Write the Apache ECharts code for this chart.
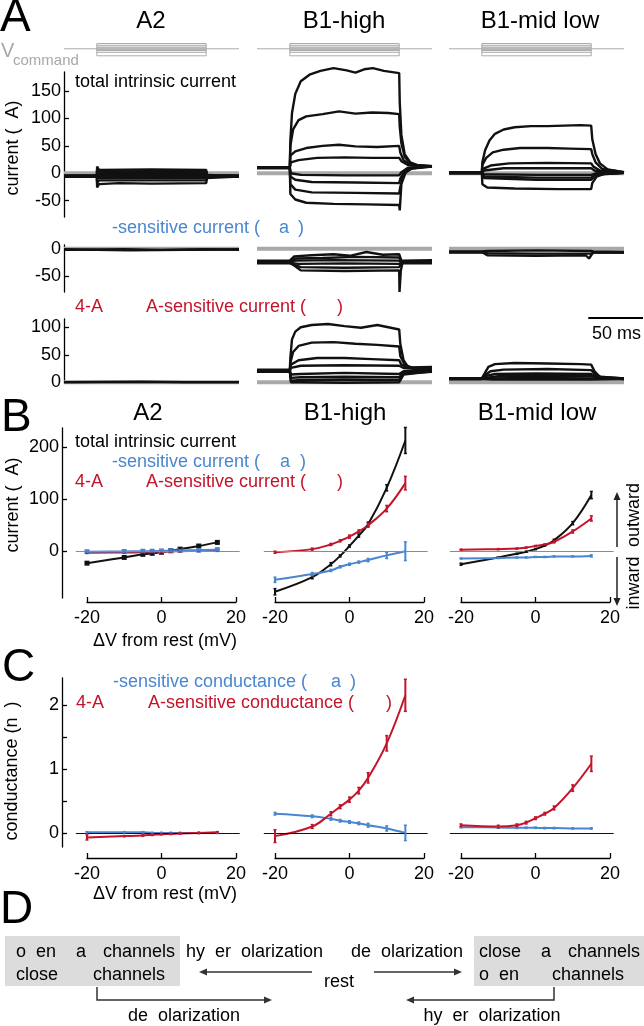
<!DOCTYPE html>
<html><head><meta charset="utf-8">
<script src="https://cdn.jsdelivr.net/npm/echarts@6/dist/echarts.min.js"></script>
<style>html,body{margin:0;padding:0;background:#fff}#c{width:644px;height:1026px}</style>
</head><body><div id="c"></div>
<script>
// ---------------- DATA ----------------
const columns = ['A2', 'B1-high', 'B1-mid low'];
const stepLevels = [-20, -10, -5, -2.5, 2.5, 5, 10, 15];   // command steps (mV)
const stepWindow = [-30, 0, 100, 130];                     // ms: start, step on, step off, end

// Panel A, total intrinsic current traces (pA) : [t(ms), I]
const totA2 = [
  [[-30,-4],[0,-4],[0.3,12],[2,6],[50,7],[100,6],[101,-4],[130,-4]],
  [[-30,-5],[0,-5],[0.3,8],[2,3],[60,4],[100,3],[101,-5],[130,-5]],
  [[-30,-5],[0,-5],[2,0],[100,0],[101,-5],[130,-5]],
  [[-30,-5],[0,-5],[2,-3],[100,-3],[101,-5],[130,-5]],
  [[-30,-6],[0,-6],[2,-6],[100,-6],[101,-6],[130,-6]],
  [[-30,-6],[0,-6],[2,-9],[100,-9],[101,-6],[130,-6]],
  [[-30,-6],[0,-6],[0.3,-18],[2,-13],[100,-13],[101,-6],[130,-6]],
  [[-30,-6],[0,-6],[0.3,-26],[2,-20],[20,-18],[50,-19],[100,-18],[101,-6],[130,-6]]
];
const totB1h = [
  [[-30,10],[0,10],[0.5,60],[2,110],[5,145],[10,168],[18,180],[28,187],[40,192],[52,188],[60,184],[68,190],[76,192],[86,187],[100,183],[100.5,130],[102,70],[105,35],[110,20],[118,14],[130,13]],
  [[-30,11],[0,11],[0.5,50],[3,80],[8,97],[15,104],[30,108],[45,113],[60,109],[75,111],[90,110],[100,108],[100.5,85],[102,55],[105,30],[110,18],[118,14],[130,13]],
  [[-30,9],[0,9],[0.5,32],[5,40],[15,46],[30,50],[45,52],[60,49],[80,48],[100,50],[101,38],[104,24],[110,15],[130,13]],
  [[-30,10],[0,10],[1,20],[8,24],[25,28],[50,29],[75,28],[100,28],[102,22],[108,15],[130,12]],
  [[-30,10],[0,10],[1,0],[10,-3],[50,-4],[100,-4],[102,2],[108,10],[130,12]],
  [[-30,10],[0,10],[0.5,-6],[5,-12],[20,-16],[60,-17],[100,-18],[101,-10],[105,4],[112,10],[130,13]],
  [[-30,10],[0,10],[0.5,-20],[5,-30],[20,-35],[60,-36],[100,-37],[101,-25],[104,-2],[110,8],[130,12]],
  [[-30,10],[0,10],[0.5,-38],[5,-48],[15,-54],[40,-56],[70,-57],[100,-58],[100.5,-68],[102,-20],[106,2],[112,9],[130,13]]
];
const totB1m = [
  [[-30,1],[0,1],[0.5,20],[3,42],[7,60],[12,72],[20,80],[30,84],[45,86],[60,86],[75,87],[90,88],[100,87],[101,62],[104,35],[108,18],[115,7],[130,2]],
  [[-30,1],[0,1],[0.5,15],[4,28],[10,38],[20,43],[35,46],[60,46],[80,45],[100,44],[101,35],[104,20],[110,8],[130,2]],
  [[-30,0],[0,0],[1,8],[8,14],[25,18],[60,19],[100,18],[102,12],[108,5],[130,1]],
  [[-30,0],[0,0],[2,5],[20,9],[100,9],[103,5],[110,2],[130,1]],
  [[-30,1],[0,1],[2,-2],[50,-3],[100,-3],[105,0],[130,1]],
  [[-30,1],[0,1],[2,-6],[50,-8],[100,-8],[104,-2],[130,1]],
  [[-30,1],[0,1],[2,-9],[50,-12],[100,-12],[104,-3],[130,1]],
  [[-30,1],[0,1],[0.5,-20],[5,-26],[30,-28],[70,-29],[100,-29],[101,-18],[105,-6],[112,-1],[130,1]]
];
// Panel A, Ka-sensitive current traces (pA)
const kaA2 = [
  [[-30,-2],[25,-1],[60,-2],[100,-1],[130,-2]],
  [[-30,-1],[30,-3],[130,-1]]
];
const kaB1h = [
  [[-30,-22],[0,-22],[4,-14],[20,-12],[40,-10],[55,-13],[70,-6],[85,-11],[100,-10],[102,-22],[130,-21]],
  [[-30,-24],[0,-24],[5,-18],[30,-17],[60,-15],[100,-16],[102,-24],[130,-24]],
  [[-30,-25],[0,-25],[5,-22],[40,-21],[100,-22],[102,-25],[130,-25]],
  [[-30,-26],[0,-26],[8,-28],[50,-27],[100,-28],[102,-26],[130,-26]],
  [[-30,-27],[0,-27],[10,-34],[50,-35],[100,-34],[102,-27],[130,-27]],
  [[-30,-25],[0,-25],[10,-40],[50,-41],[100,-40],[100.3,-80],[101.5,-40],[103,-26],[130,-25]]
];
const kaB1m = [
  [[-30,-5],[0,-5],[5,-4],[50,-3],[100,-4],[102,-5],[130,-6]],
  [[-30,-7],[0,-7],[5,-8],[50,-9],[100,-9],[102,-7],[130,-7]],
  [[-30,-6],[0,-6],[5,-12],[50,-13],[95,-12],[98,-18],[100,-12],[102,-7],[130,-7]]
];
// Panel A, 4-AP-sensitive current traces (pA)
const apA2 = [
  [[-30,0],[40,1],[80,0],[130,0]]
];
const apB1h = [
  [[-30,22],[0,22],[0.5,45],[2,78],[5,92],[10,100],[20,104],[35,106],[50,102],[65,99],[80,104],[90,100],[100,96],[101,70],[104,40],[108,28],[115,25],[130,25]],
  [[-30,20],[0,20],[0.5,35],[3,55],[8,66],[20,72],[40,73],[60,70],[80,68],[100,65],[101,48],[105,32],[112,26],[130,25]],
  [[-30,23],[0,23],[1,32],[8,40],[25,44],[50,44],[75,42],[100,40],[102,32],[108,27],[130,28]],
  [[-30,20],[0,20],[1,26],[10,30],[50,31],[100,30],[104,26],[130,22]],
  [[-30,21],[0,21],[1,14],[10,15],[50,17],[100,15],[104,20],[130,21]],
  [[-30,19],[0,19],[1,8],[10,9],[50,10],[100,9],[104,18],[130,20]],
  [[-30,20],[0,20],[1,3],[10,4],[50,5],[100,4],[104,16],[130,19]],
  [[-30,21],[0,21],[1,0],[10,0],[50,-1],[100,0],[104,14],[130,20]]
];
const apB1m = [
  [[-30,7],[0,7],[2,14],[6,28],[12,33],[30,35],[60,34],[90,33],[100,32],[103,20],[108,10],[130,7]],
  [[-30,6],[0,6],[2,12],[8,20],[20,23],[60,24],[100,22],[104,14],[110,8],[130,6]],
  [[-30,7],[0,7],[3,11],[12,15],[50,16],[100,15],[105,10],[130,7]],
  [[-30,6],[0,6],[3,8],[15,11],[100,11],[106,8],[130,6]],
  [[-30,7],[0,7],[5,7],[50,8],[100,7],[130,7]],
  [[-30,6],[0,6],[10,5],[100,5],[130,6]]
];

// Panel B (I-V, pA) and C (G-V, nS)
const dV = [-20, -10, -5, -2.5, 0, 2.5, 5, 10, 15];
const ivTotA2 = [-23,-12,-6,-4,-2,1,4,10,17];      const ivTotA2Err = [2,1,1,1,1,1,1,2,3];
const ivKaA2  = [-1,-0.5,0,0,0.5,1,1.5,2,3];         const ivKaA2Err  = [1,1,1,1,1,1,1,1,2];
const ivAA2   = [-3,-2.5,-2,-1.5,-1,-0.5,0,0.5,1];   const ivAA2Err   = [1,1,1,1,1,1,1,1,1];
const ivTotB1h = [-78,-50,-25,-9,10,30,52,122,213];  const ivTotB1hErr = [6,3,3,2,2,3,4,6,25];
const ivKaB1h  = [-55,-44,-37,-30,-25,-21,-17,-8,0]; const ivKaB1hErr  = [5,3,2,2,2,2,3,6,18];
const ivAB1h   = [-2,4,13,20,28,38,50,82,131];       const ivAB1hErr   = [2,2,2,2,3,3,4,6,13];
const ivTotB1m = [-25,-12,-5,-1,4,11,21,54,108];     const ivTotB1mErr = [2,1,1,1,1,1,2,3,7];
const ivKaB1m  = [-14,-13,-12,-12,-11,-11,-10,-10,-9]; const ivKaB1mErr = [1,1,1,1,1,1,1,1,2];
const ivAB1m   = [3,4,5,7,10,13,18,38,63];           const ivAB1mErr   = [1,1,1,1,1,1,2,3,5];

const gKaA2 = [0.01,0.01,0.01,0,0,0,0,0,0];          const gKaA2Err = [0.01,0.01,0.01,0.01,0.01,0.01,0.01,0.01,0.01];
const gAA2  = [-0.07,-0.05,-0.04,-0.03,-0.02,-0.015,-0.01,0,0.01]; const gAA2Err = [0.04,0.01,0.01,0.01,0.01,0.01,0.01,0.01,0.01];
const gKaB1h = [0.30,0.26,0.22,0.19,0.17,0.15,0.12,0.07,0.0]; const gKaB1hErr = [0.02,0.02,0.02,0.02,0.02,0.02,0.03,0.04,0.12];
const gAB1h  = [-0.05,0.1,0.3,0.41,0.52,0.66,0.86,1.4,2.15]; const gAB1hErr = [0.1,0.03,0.03,0.03,0.04,0.05,0.08,0.12,0.25];
const gKaB1m = [0.09,0.085,0.08,0.08,0.08,0.075,0.075,0.07,0.07]; const gKaB1mErr = [0.01,0.01,0.01,0.01,0.01,0.01,0.01,0.01,0.01];
const gAB1m  = [0.12,0.1,0.12,0.16,0.23,0.3,0.39,0.7,1.08]; const gAB1mErr = [0.02,0.02,0.02,0.02,0.02,0.02,0.03,0.05,0.12];

// tick labels
const ticksATop = [-50, 0, 50, 100, 150];
const ticksAMid = [-50, 0];
const ticksABot = [0, 50, 100];
const ticksB = [0, 100, 200];
const ticksC = [0, 0.5, 1, 1.5, 2];
const labelsC = [0, 1, 2];
const ticksDV = [-20, 0, 20];

// ---------------- STYLE / LAYOUT ----------------
const FF = '"Liberation Sans", Arial, Helvetica, sans-serif';
const BLUE = '#4a86cf', RED = '#c4142b', GRAY = '#a9a9a9', BLACK = '#111';

const grids = [], xAxes = [], yAxes = [], series = [];
function addGrid(box, xa, ya) {
  const i = grids.length;
  grids.push(Object.assign({containLabel: false, outerBoundsMode: 'none', show: false}, box));
  xAxes.push(Object.assign({type: 'value', gridIndex: i}, xa));
  yAxes.push(Object.assign({type: 'value', gridIndex: i}, ya));
  return i;
}
const hid = (min, max) => ({min, max, show: false});
function visY(min, max, tickVals, labelVals, offset) {
  return {min, max, position: 'left', offset: offset || 0,
    axisLine: {show: true, onZero: false, lineStyle: {color: '#000', width: 1.3}},
    axisTick: {show: true, inside: true, length: 5, customValues: tickVals, lineStyle: {color: '#000', width: 1.3}},
    axisLabel: {show: true, customValues: labelVals, fontSize: 18, fontFamily: FF, color: '#000', margin: 3},
    splitLine: {show: false}};
}
function visX(min, max, vals) {
  return {min, max, position: 'bottom',
    axisLine: {show: true, onZero: false, lineStyle: {color: '#000', width: 1.3}},
    axisTick: {show: true, inside: true, length: 5, customValues: vals, lineStyle: {color: '#000', width: 1.3}},
    axisLabel: {show: true, customValues: vals, fontSize: 18, fontFamily: FF, color: '#000', margin: 7},
    splitLine: {show: false}};
}
function lineS(gi, d, color, width, z) {
  series.push({type: 'line', xAxisIndex: gi, yAxisIndex: gi, data: d, showSymbol: false,
    symbol: 'none', clip: false, lineStyle: {color: color, width: width}, z: z || 3, silent: true, animation: false});
}
function traces(gi, list, color, width) { list.forEach(d => lineS(gi, d, color, width, 3)); }
function zeroLine(gi) { lineS(gi, [[stepWindow[0], 0], [stepWindow[3], 0]], GRAY, 4, 2); }

const colsA = [64, 257, 449], wA = 175;
const tMin = stepWindow[0], tMax = stepWindow[3];
const vG = [], tG = [], mG = [], bG = [];
colsA.forEach((L, c) => {
  vG.push(addGrid({left: L, top: 42.5, width: wA, height: 14}, hid(tMin, tMax), hid(-22, 18)));
  tG.push(addGrid({left: L, top: 72, width: wA, height: 145}, hid(tMin, tMax),
    c === 0 ? visY(-80, 185, ticksATop, ticksATop) : hid(-80, 185)));
  mG.push(addGrid({left: L, top: 245, width: wA, height: 47}, hid(tMin, tMax),
    c === 0 ? visY(-80, 7, ticksAMid, ticksAMid) : hid(-80, 7)));
  bG.push(addGrid({left: L, top: 319, width: wA, height: 64.35}, hid(tMin, tMax),
    c === 0 ? visY(-2, 115, ticksABot, ticksABot) : hid(-2, 115)));
});

// V command: baseline, one plateau per step level, and the step edges
const vLo = Math.min.apply(null, stepLevels), vHi = Math.max.apply(null, stepLevels);
vG.forEach(gi => {
  const VC = '#aaaaaa';
  lineS(gi, [[stepWindow[0], 0], [stepWindow[3], 0]], VC, 1, 3);
  stepLevels.forEach(v => lineS(gi, [[stepWindow[1], v], [stepWindow[2], v]], VC, 1, 3));
  lineS(gi, [[stepWindow[1], vLo], [stepWindow[1], vHi]], VC, 1, 3);
  lineS(gi, [[stepWindow[2], vLo], [stepWindow[2], vHi]], VC, 1, 3);
});
[tG, mG, bG].forEach(row => row.forEach(gi => zeroLine(gi)));
const TW = 2.4;
traces(tG[0], totA2, BLACK, TW); traces(tG[1], totB1h, BLACK, TW); traces(tG[2], totB1m, BLACK, TW);
traces(mG[0], kaA2, BLACK, TW);  traces(mG[1], kaB1h, BLACK, TW);  traces(mG[2], kaB1m, BLACK, TW);
traces(bG[0], apA2, BLACK, TW);  traces(bG[1], apB1h, BLACK, TW);  traces(bG[2], apB1m, BLACK, TW);

// Panels B and C
const dataLeft = [75.8, 263.8, 449.8], axisLeft = [87, 275, 461];
const pxPerMV = 149 / 40;
const xLo = -23, xHi = 21, dataW = (xHi - xLo) * pxPerMV;
const BG = [], CG = [];
dataLeft.forEach((L, c) => {
  BG.push(addGrid({left: L, top: 428, width: dataW, height: 170}, hid(xLo, xHi),
    c === 0 ? visY(-90, 237, ticksB, ticksB, L - 62) : hid(-90, 237)));
  addGrid({left: axisLeft[c], top: 601, width: 149, height: 1}, visX(-20, 20, ticksDV), hid(0, 1));
  CG.push(addGrid({left: L, top: 678, width: dataW, height: 169}, hid(xLo, xHi),
    c === 0 ? visY(-0.22, 2.42, ticksC, labelsC, L - 62) : hid(-0.22, 2.42)));
  addGrid({left: axisLeft[c], top: 857, width: 149, height: 1}, visX(-20, 20, ticksDV), hid(0, 1));
});

function ivSeries(gi, vals, errs, color, squares, markLine) {
  const s = {type: 'line', xAxisIndex: gi, yAxisIndex: gi, data: dV.map((x, i) => [x, vals[i]]),
    smooth: 0.4, showSymbol: !!squares, symbol: 'rect', symbolSize: 5,
    itemStyle: {color: color}, lineStyle: {color: color, width: 2}, clip: false, z: 4, silent: true, animation: false};
  if (markLine) s.markLine = markLine;
  series.push(s);
  series.push({type: 'custom', xAxisIndex: gi, yAxisIndex: gi, z: 5, silent: true, animation: false, clip: false,
    data: dV.map((x, i) => [x, vals[i] - errs[i], vals[i] + errs[i]]),
    renderItem: (params, api) => {
      const p1 = api.coord([api.value(0), api.value(1)]), p2 = api.coord([api.value(0), api.value(2)]);
      return {type: 'group', children: [
        {type: 'line', shape: {x1: p1[0], y1: p1[1], x2: p2[0], y2: p2[1]}, style: {stroke: color, lineWidth: 2}},
        {type: 'line', shape: {x1: p1[0] - 1.5, y1: p1[1], x2: p1[0] + 1.5, y2: p1[1]}, style: {stroke: color, lineWidth: 1.5}},
        {type: 'line', shape: {x1: p2[0] - 1.5, y1: p2[1], x2: p2[0] + 1.5, y2: p2[1]}, style: {stroke: color, lineWidth: 1.5}}
      ]};
    }});
}
function refLines(hColor, vTop, vBottom) {
  return {silent: true, symbol: ['none', 'none'], label: {show: false}, animation: false,
    lineStyle: {color: '#8c8c8c', width: 1, type: 'solid'},
    data: [{yAxis: 0, lineStyle: {color: hColor, width: 1, type: 'solid'}},
           [{coord: [0, vTop]}, {coord: [0, vBottom]}]]};
}
// B
ivSeries(BG[0], ivTotA2, ivTotA2Err, BLACK, true, refLines('#8c8c8c', 87, -98));
ivSeries(BG[0], ivAA2, ivAA2Err, RED, false);
ivSeries(BG[0], ivKaA2, ivKaA2Err, BLUE, true);
ivSeries(BG[1], ivTotB1h, ivTotB1hErr, BLACK, false, refLines('#8c8c8c', 237, -98));
ivSeries(BG[1], ivKaB1h, ivKaB1hErr, BLUE, false);
ivSeries(BG[1], ivAB1h, ivAB1hErr, RED, false);
ivSeries(BG[2], ivTotB1m, ivTotB1mErr, BLACK, false, refLines('#8c8c8c', 237, -98));
ivSeries(BG[2], ivKaB1m, ivKaB1mErr, BLUE, false);
ivSeries(BG[2], ivAB1m, ivAB1mErr, RED, false);
// C
ivSeries(CG[0], gKaA2, gKaA2Err, BLUE, false, refLines('#111', 1.81, -0.39));
ivSeries(CG[0], gAA2, gAA2Err, RED, false);
ivSeries(CG[1], gKaB1h, gKaB1hErr, BLUE, false, refLines('#111', 1.81, -0.39));
ivSeries(CG[1], gAB1h, gAB1hErr, RED, false);
ivSeries(CG[2], gKaB1m, gKaB1mErr, BLUE, false, refLines('#111', 1.81, -0.39));
ivSeries(CG[2], gAB1m, gAB1mErr, RED, false);

const chart = echarts.init(document.getElementById('c'), null, {renderer: 'canvas', width: 644, height: 1026});
chart.setOption({animation: false, backgroundColor: '#fff', grid: grids, xAxis: xAxes, yAxis: yAxes, series: series});

// ---------------- TEXT & ANNOTATIONS ----------------
function T(text, x, y, o) {
  o = o || {};
  const al = o.align || 'left';
  return {type: 'text', x: x, y: y, rotation: o.rot || 0, silent: true, z: 100,
    style: {text: text, fill: o.color || '#000', fontSize: o.size || 18, fontFamily: FF,
      align: al, textAlign: al, verticalAlign: 'middle', textVerticalAlign: 'middle'}};
}
function L(x1, y1, x2, y2, color, w) {
  return {type: 'line', silent: true, z: 100, shape: {x1, y1, x2, y2}, style: {stroke: color || '#333', lineWidth: w || 1.5}};
}
function head(x, y, dir, color) { // tip at (x,y)
  const c = color || '#333', s = 8, h = 3.5;
  let pts;
  if (dir === 'left') pts = [[x, y], [x + s, y - h], [x + s, y + h]];
  else if (dir === 'right') pts = [[x, y], [x - s, y - h], [x - s, y + h]];
  else if (dir === 'up') pts = [[x, y], [x - h, y + s], [x + h, y + s]];
  else pts = [[x, y], [x - h, y - s], [x + h, y - s]];
  return {type: 'polygon', silent: true, z: 100, shape: {points: pts}, style: {fill: c}};
}

const g = [];
// panel letters
g.push(T('A', 0, 18, {size: 46}), T('B', 1, 418, {size: 46}), T('C', 2, 668, {size: 46}), T('D', 0, 910, {size: 46}));
// column titles
const titleXA = [151, 344, 540], titleXB = [148, 345, 537];
columns.forEach((t, i) => { g.push(T(t, titleXA[i], 21, {size: 24, align: 'center'})); g.push(T(t, titleXB[i], 413, {size: 24, align: 'center'})); });
// Vcommand
g.push(T('V', 1, 51, {size: 20, color: '#a8a8a8'}), T('command', 13, 61, {size: 15, color: '#a8a8a8'}));
// Panel A labels
g.push(T('current (  A)', 13, 148, {rot: Math.PI / 2, align: 'center'}));
g.push(T('total intrinsic current', 75, 82));
g.push(T('-sensitive current (', 112, 228, {color: BLUE}), T('a', 279, 228, {color: BLUE}), T(')', 298, 228, {color: BLUE}));
g.push(T('4-A', 75, 307, {color: RED}), T('A-sensitive current (', 146, 307, {color: RED}), T(')', 337, 307, {color: RED}));
// Panel B labels
g.push(T('current (  A)', 13, 505, {rot: Math.PI / 2, align: 'center'}));
g.push(T('total intrinsic current', 75, 442));
g.push(T('-sensitive current (', 112, 462, {color: BLUE}), T('a', 280, 462, {color: BLUE}), T(')', 300, 462, {color: BLUE}));
g.push(T('4-A', 75, 482, {color: RED}), T('A-sensitive current (', 146, 482, {color: RED}), T(')', 337, 482, {color: RED}));
g.push(T('\u0394V from rest (mV)', 165, 641, {align: 'center'}));
// outward / inward
g.push(L(617, 547, 617, 499, '#222', 1.5), head(617, 492, 'up', '#222'));
g.push(L(617, 557, 617, 599, '#222', 1.5), head(617, 606, 'down', '#222'));
g.push(T('outward', 634, 515, {rot: Math.PI / 2, align: 'center'}), T('inward', 634, 583, {rot: Math.PI / 2, align: 'center'}));
// Panel C labels
g.push(T('conductance (n  )', 12, 771, {rot: Math.PI / 2, align: 'center'}));
g.push(T('-sensitive conductance (', 113, 682, {color: BLUE}), T('a', 331, 682, {color: BLUE}), T(')', 350, 682, {color: BLUE}));
g.push(T('4-A', 76, 703, {color: RED}), T('A-sensitive conductance (', 148, 703, {color: RED}), T(')', 386, 703, {color: RED}));
g.push(T('\u0394V from rest (mV)', 165, 894, {align: 'center'}));
// scale bar (50 ms) from the time axis of the last column
const p0 = chart.convertToPixel({gridIndex: bG[2]}, [0, 0]);
const p50 = chart.convertToPixel({gridIndex: bG[2]}, [50, 0]);
const barLen = p50[0] - p0[0];
g.push(L(643 - barLen, 318, 643, 318, '#000', 2), T('50 ms', 592, 334));
// Panel D diagram
g.push({type: 'rect', silent: true, z: 90, shape: {x: 5, y: 936, width: 175, height: 50}, style: {fill: '#dcdcdc'}});
g.push({type: 'rect', silent: true, z: 90, shape: {x: 474, y: 936, width: 170, height: 50}, style: {fill: '#dcdcdc'}});
g.push(T('o  en', 16, 952), T('a', 76, 952), T('channels', 103, 952));
g.push(T('close', 16, 975), T('channels', 93, 975));
g.push(T('close', 479, 952), T('a', 541, 952), T('channels', 568, 952));
g.push(T('o  en', 479, 975), T('channels', 552, 975));
g.push(T('hy  er  olarization', 186, 952), T('de  olarization', 351, 952), T('rest', 339, 982, {align: 'center'}));
g.push(L(312, 972, 206, 972), head(199, 972, 'left'));
g.push(L(374, 972, 455, 972), head(462, 972, 'right'));
g.push({type: 'polyline', silent: true, z: 100, shape: {points: [[97, 987], [97, 1000], [265, 1000]]}, style: {stroke: '#333', lineWidth: 1.5, fill: null}}, head(272, 1000, 'right'));
g.push({type: 'polyline', silent: true, z: 100, shape: {points: [[554, 987], [554, 1000], [413, 1000]]}, style: {stroke: '#333', lineWidth: 1.5, fill: null}}, head(406, 1000, 'left'));
g.push(T('de  olarization', 184, 1016, {align: 'center'}), T('hy  er  olarization', 492, 1016, {align: 'center'}));

chart.setOption({graphic: {elements: g}});
</script>
</body></html>
